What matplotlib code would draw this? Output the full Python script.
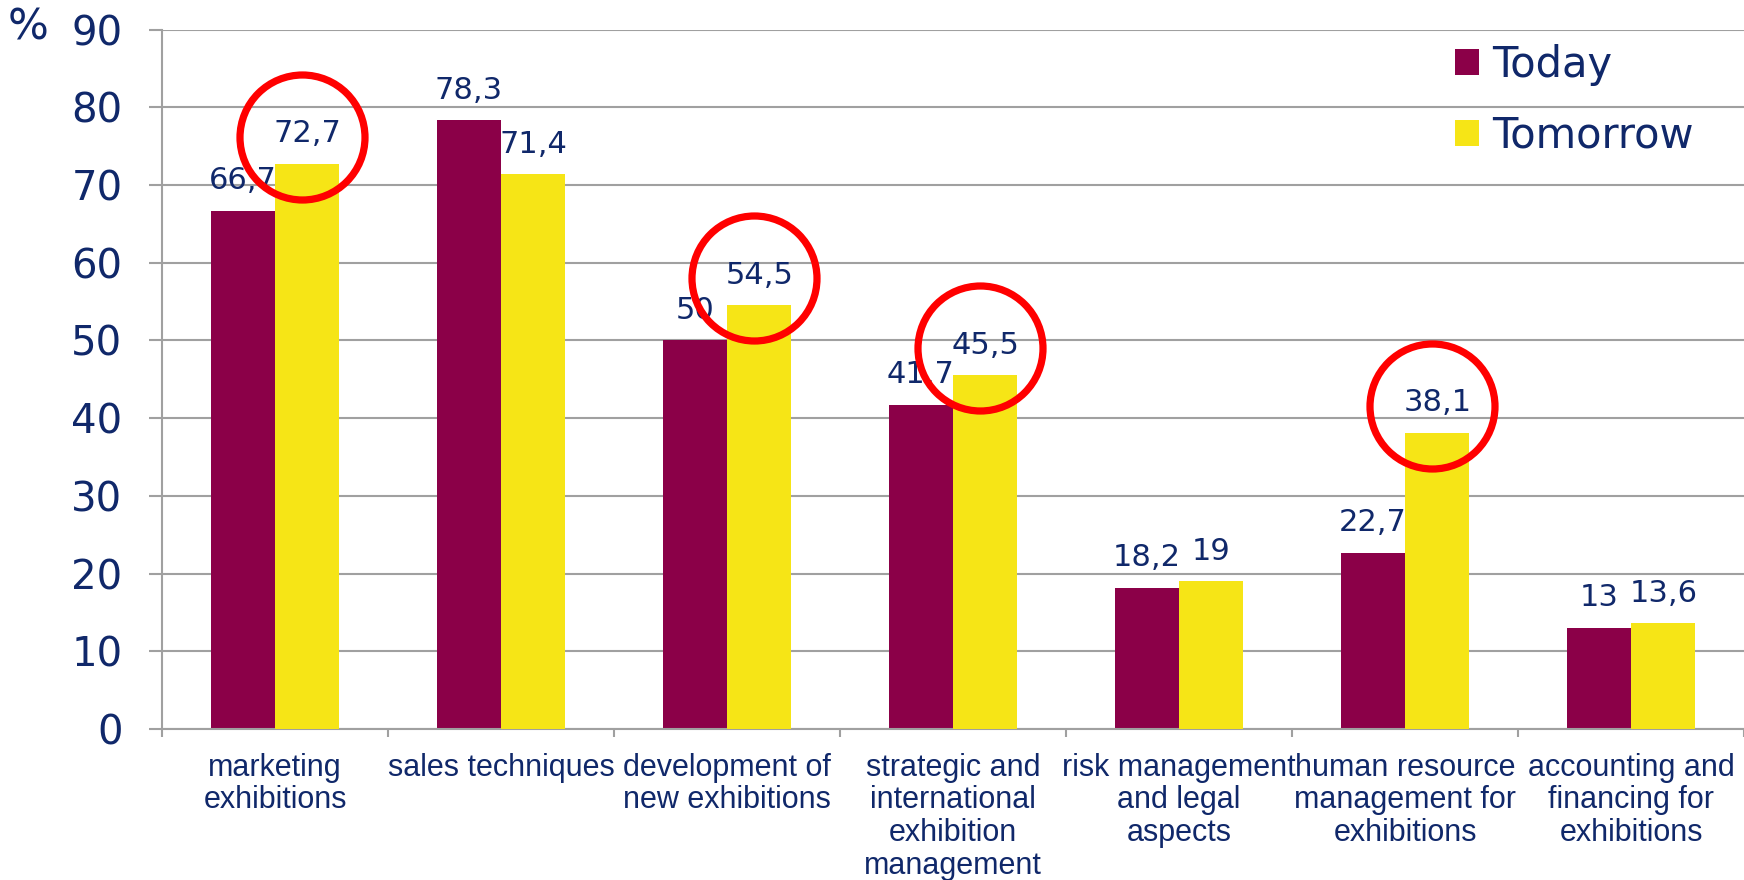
import numpy as np
import matplotlib
matplotlib.use("Agg")
import matplotlib.pyplot as plt
from matplotlib.ticker import FixedLocator, NullFormatter

# data
categories = ["marketing\nexhibitions", "sales techniques", "development of\nnew exhibitions",
              "strategic and\ninternational\nexhibition\nmanagement", "risk management\nand legal\naspects",
              "human resource\nmanagement for\nexhibitions", "accounting and\nfinancing for\nexhibitions"]
today = [66.7, 78.3, 50, 41.7, 18.2, 22.7, 13]
tomorrow = [72.7, 71.4, 54.5, 45.5, 19, 38.1, 13.6]
today_labels = ["66,7", "78,3", "50", "41,7", "18,2", "22,7", "13"]
tomorrow_labels = ["72,7", "71,4", "54,5", "45,5", "19", "38,1", "13,6"]
circled = [0, 2, 3, 5]  # tomorrow values marked with red circles

navy = "#10286A"
c_today = "#8B0048"
c_tomorrow = "#F6E516"
grid_c = "#A0A0A0"

fig = plt.figure(figsize=(17.44, 8.8), dpi=100)
ax = fig.add_axes([162 / 1744, 1 - 729 / 880, 1 - 162 / 1744, (729 - 29.5) / 880])

x = np.arange(len(categories))
w = 0.285

ax.bar(x - w / 2, today, w, color=c_today, zorder=2, label="Today")
ax.bar(x + w / 2, tomorrow, w, color=c_tomorrow, zorder=4, label="Tomorrow")

for xi, v, s in zip(x - w / 2, today, today_labels):
    ax.annotate(s, (xi, v), xytext=(0, 15.5), textcoords="offset points",
                ha="center", va="baseline", fontsize=22, color=navy, zorder=3)
for xi, v, s in zip(x + w / 2, tomorrow, tomorrow_labels):
    ax.annotate(s, (xi, v), xytext=(0, 15.5), textcoords="offset points",
                ha="center", va="baseline", fontsize=22, color=navy, zorder=5)

# red circles
for i in circled:
    ax.plot(x[i] + w / 2 - 0.025, tomorrow[i] + 3.5, marker="o", ms=90, mfc="none",
            mec="#FF0000", mew=5.2, zorder=10, clip_on=False)

ax.set_xlim(-0.5, len(categories) - 0.5)
ax.set_ylim(0, 90)
ax.set_yticks(np.arange(0, 91, 10))
ax.yaxis.grid(True, color=grid_c, lw=1.5, zorder=0)
ax.set_axisbelow(True)

ax.set_xticks(x)
ax.set_xticklabels(categories, fontsize=22, color=navy, family="Liberation Sans", linespacing=1.12)
ax.xaxis.set_minor_locator(FixedLocator(np.arange(-0.5, len(categories), 1)))
ax.xaxis.set_minor_formatter(NullFormatter())
ax.tick_params(axis="x", which="major", length=0, pad=17)
ax.tick_params(axis="x", which="minor", length=6, width=1.5, color=grid_c)
ax.tick_params(axis="y", length=9.5, width=1.5, color=grid_c, pad=19, labelsize=29, labelcolor=navy)

for s in ["top", "right"]:
    ax.spines[s].set_visible(False)
for s in ["left", "bottom"]:
    ax.spines[s].set_color(grid_c)
    ax.spines[s].set_linewidth(1.5)

fig.text(8 / 1744, 1 - 40 / 880, "%", fontsize=31, color=navy, ha="left", va="baseline")

leg = ax.legend(loc="upper left", bbox_to_anchor=(1455 / 1744, 1 - 44 / 880),
                bbox_transform=fig.transFigure, frameon=False, fontsize=30,
                handlelength=0.58, handleheight=0.58, handletextpad=0.3,
                labelspacing=0.68, borderpad=0, borderaxespad=0)
for t in leg.get_texts():
    t.set_color(navy)

fig.savefig("out.png", dpi=100)
